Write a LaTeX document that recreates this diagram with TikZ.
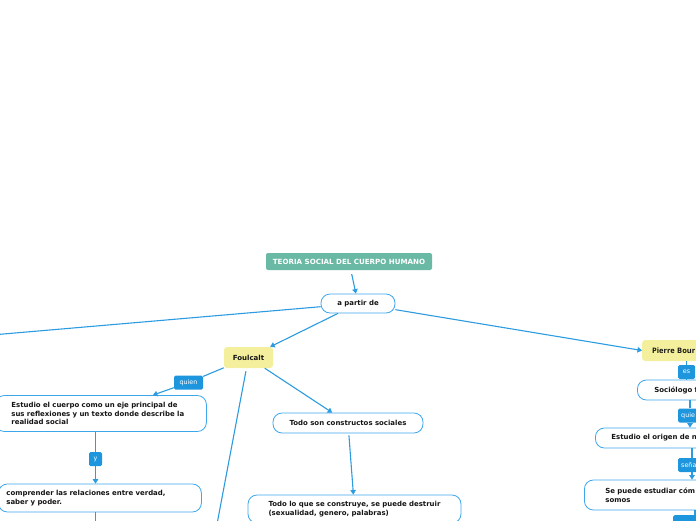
\documentclass[tikz,border=0pt]{standalone}
\usepackage{fontspec}
\setmainfont{DejaVu Sans}
\newfontfamily\pfont{Open Sans}
\usetikzlibrary{arrows.meta}
\definecolor{lblue}{RGB}{44,155,224}
\definecolor{bblue}{RGB}{62,166,236}
\definecolor{tagblue}{RGB}{30,150,222}
\definecolor{myyellow}{RGB}{243,239,157}
\definecolor{myteal}{RGB}{105,185,164}
\definecolor{txt}{RGB}{20,20,20}
\begin{document}
\begin{tikzpicture}[x=1pt,y=-1pt,
  conn/.style={draw=lblue, line width=1.1pt},
  arr/.style={conn, -{Triangle[length=4.5pt,width=5.5pt]}},
  pill/.style={draw=bblue, line width=0.8pt, fill=white, rounded corners=9pt,
    font=\fontsize{6.95}{8.6}\selectfont\bfseries, text=txt, inner ysep=0pt},
  tag/.style={fill=tagblue, rounded corners=1.5pt, text=white,
    font=\fontsize{6.4}{7}\selectfont, inner ysep=0pt, minimum height=14pt},
  yel/.style={fill=myyellow, rounded corners=3pt, text=txt,
    font=\fontsize{7}{8}\selectfont\bfseries, minimum height=21pt, inner ysep=0pt}
]
\useasboundingbox (0,0) rectangle (696,520);
\clip (0,0) rectangle (696,520);

% title and centre
\node[fill=myteal, rounded corners=2pt, text=white, font=\fontsize{7.1}{8}\selectfont\bfseries,
  minimum width=166pt, minimum height=17pt, inner sep=0pt] (title) at (349,261.5) {TEORIA SOCIAL DEL CUERPO HUMANO};
\node[pill, minimum width=74pt, minimum height=19pt, inner xsep=0pt] (apartir) at (358,303.5) {a partir de};

% Foucault branch
\node[yel, minimum width=49pt, inner xsep=0pt] (foul) at (248.5,357.5) {Foulcalt};
\node[tag, minimum width=29pt, inner xsep=0pt] (quien1) at (188.5,382.5) {quien};
\node[pill, anchor=west, minimum height=36pt, inner xsep=16pt, text width=179pt, align=left] (est1) at (-5,413.5)
  {Estudio el cuerpo como un eje principal de\\sus reflexiones y un texto donde describe la\\realidad social};
\node[tag, minimum width=13pt, inner xsep=0pt] (ylab) at (95.5,459) {y};
\node[pill, anchor=west, minimum height=28pt, inner xsep=8pt, text width=187pt, align=left] (comp) at (-2,498)
  {comprender las relaciones entre verdad,\\saber y poder.};
\node[pill, minimum width=150pt, minimum height=20pt, inner xsep=0pt] (todo1) at (348,423) {Todo son constructos sociales};
\node[pill, minimum width=213pt, minimum height=28pt, inner xsep=0pt, align=left] (todo2) at (354.5,509)
  {Todo lo que se construye, se puede destruir\\(sexualidad, genero, palabras)};

% Bourdieu branch (cut by the right edge)
\node[yel, anchor=west, font=\fontsize{7.5}{8}\selectfont\pfont\bfseries, inner xsep=10pt, text width=100pt, align=left] (pierre) at (642,350.5) {Pierre Bour};
\node[tag, minimum width=17pt, inner xsep=0pt] (es) at (686.5,372) {es};
\node[pill, anchor=west, minimum height=20pt, inner xsep=17pt, text width=120pt, align=left] (socio) at (637,390) {Sociólogo f};
\node[tag, anchor=west, inner xsep=3pt, text width=30pt, align=left] (quien2) at (678,415.5) {quie};
\node[pill, anchor=west, minimum height=20pt, inner xsep=16pt, text width=150pt, align=left] (est2) at (595,438) {Estudio el origen de n};
\node[tag, anchor=west, inner xsep=3pt, text width=30pt, align=left] (senala) at (678,465) {seña};
\node[pill, anchor=west, minimum height=30pt, inner xsep=21pt, text width=150pt, align=left] (sepuede) at (584,495)
  {Se puede estudiar cóm\\somos};
\node[tag, anchor=north west, minimum width=44pt, inner xsep=0pt] (lastlab) at (673,515) {};

% free ends
\coordinate (offL) at (-20,336);
\coordinate (offF) at (214,540);
\coordinate (offC) at (95.5,540);
\coordinate (rx2) at (690,0);
\coordinate (rx3) at (692,0);
\coordinate (rx4) at (695,0);

% connectors
\draw[arr, shorten <=4pt] (title) -- (apartir);
\draw[conn] (apartir) -- (offL);
\draw[arr] (apartir) -- (foul);
\draw[arr] (apartir) -- (pierre.west);
\draw[conn] (foul) -- (quien1);
\draw[arr] (quien1) -- (est1);
\draw[conn] (est1.south -| ylab) -- (ylab);
\draw[arr] (ylab) -- (comp.north -| ylab);
\draw[conn] (comp.south -| ylab) -- (offC);
\draw[conn, shorten <=3pt] (foul) -- (offF);
\draw[arr] (foul) -- (todo1);
\draw[arr, shorten <=2pt] (todo1) -- (todo2);
\draw[conn] (pierre.south -| es) -- (es);
\draw[conn] (es) -- (socio.north -| es);
\draw[conn] (socio.south -| rx2) -- (quien2.north -| rx2);
\draw[arr] (quien2.south -| rx2) -- (est2.north -| rx2);
\draw[conn] (est2.south -| rx3) -- (senala.north -| rx3);
\draw[arr] (senala.south -| rx3) -- (sepuede.north -| rx3);
\draw[conn] (sepuede.south -| rx4) -- (lastlab.north -| rx4);
\end{tikzpicture}
\end{document}
